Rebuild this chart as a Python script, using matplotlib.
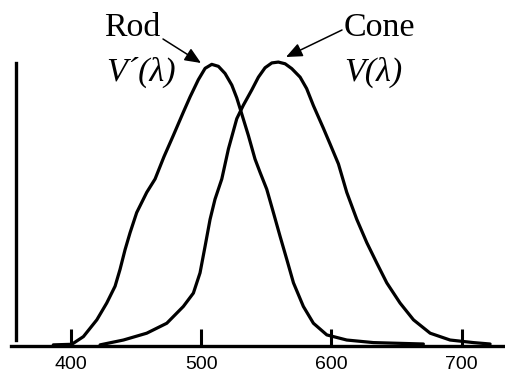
import matplotlib
matplotlib.use("Agg")
import matplotlib.pyplot as plt

# ---- data (wavelength nm, relative sensitivity) ----
rod_nm = [386.6, 400.8, 409.7, 420.0, 427.6, 434.0, 437.8, 441.7, 445.5, 450.6,
          458.3, 464.7, 471.5, 478.7, 486.4, 491.6, 497.9, 503.1, 508.2, 513.3,
          518.4, 523.6, 527.4, 531.2, 536.3, 541.4, 545.3, 550.4, 555.5, 560.6,
          565.8, 570.9, 578.5, 586.2, 596.5, 611.8, 632.2, 670.6]
rod_val = [0.004, 0.006, 0.033, 0.092, 0.151, 0.210, 0.269, 0.339, 0.398, 0.469,
           0.540, 0.587, 0.665, 0.740, 0.822, 0.876, 0.936, 0.976, 0.990, 0.983,
           0.958, 0.917, 0.872, 0.816, 0.740, 0.657, 0.610, 0.551, 0.469, 0.386,
           0.304, 0.222, 0.139, 0.080, 0.039, 0.021, 0.012, 0.007]

cone_nm = [422.5, 440.4, 458.3, 473.7, 486.4, 494.1, 499.2, 503.1, 506.9, 510.7,
           515.9, 521.0, 527.4, 532.4, 538.9, 544.0, 549.1, 554.3, 559.3, 564.5,
           569.6, 576.0, 581.0, 586.2, 593.9, 599.0, 605.4, 611.8, 619.5, 627.2,
           634.8, 642.5, 652.7, 663.0, 675.8, 691.1, 709.0, 721.8]
cone_val = [0.004, 0.021, 0.045, 0.080, 0.139, 0.186, 0.257, 0.351, 0.445, 0.516,
            0.587, 0.693, 0.799, 0.846, 0.900, 0.945, 0.978, 0.995, 0.998, 0.992,
            0.975, 0.945, 0.905, 0.845, 0.765, 0.710, 0.640, 0.540, 0.445, 0.363,
            0.292, 0.222, 0.151, 0.092, 0.045, 0.021, 0.012, 0.007]

xticks = [400, 500, 600, 700]
xtick_labels = ["400", "500", "600", "700"]
rod_label = ["Rod", "V\u00b4(\u03bb)"]
cone_label = ["Cone", "V(\u03bb)"]

W, H = 506, 375
fig = plt.figure(figsize=(W / 100, H / 100), dpi=100)
ax = fig.add_axes([0.0, (H - 346) / H, 1.0, (346 - 61.5) / H])
ax.set_xlim(345.7, 734.0)
ax.set_ylim(0, 1)

lw_curve = 2.3
ax.plot(rod_nm, rod_val, color="black", lw=lw_curve, clip_on=False,
        solid_joinstyle="round", solid_capstyle="round")
ax.plot(cone_nm, cone_val, color="black", lw=lw_curve, clip_on=False,
        solid_joinstyle="round", solid_capstyle="round")

for s in ["top", "right"]:
    ax.spines[s].set_visible(False)
ax.spines["bottom"].set_bounds(354, 734)
ax.spines["bottom"].set_linewidth(2.4)
ax.spines["left"].set_position(("data", 358))
ax.spines["left"].set_bounds(0.021, 0.995)
ax.spines["left"].set_linewidth(2.4)

ax.set_yticks([])
ax.set_xticks(xticks)
ax.set_xticklabels(xtick_labels, family="Liberation Sans", fontsize=14)
ax.tick_params(axis="x", direction="in", length=12.5, width=2.2, pad=7.0)

serif = "Liberation Serif"
fig.text(132.2 / W, 1 - 35.7 / H, rod_label[0], family=serif, fontsize=24.5,
         ha="center", va="baseline")
fig.text(141.0 / W, 1 - 81 / H, rod_label[1], family=serif, fontsize=24.5,
         style="italic", ha="center", va="baseline")
fig.text(344 / W, 1 - 35.7 / H, cone_label[0], family=serif, fontsize=24.5,
         ha="left", va="baseline")
fig.text(344 / W, 1 - 81 / H, cone_label[1], family=serif, fontsize=24.5,
         style="italic", ha="left", va="baseline")

arrow = dict(arrowstyle="-|>,head_length=0.7,head_width=0.3", mutation_scale=14,
             lw=1.1, color="black", shrinkA=0, shrinkB=0)
ax.annotate("", xy=(201, H - 63), xytext=(163, H - 39),
            xycoords="figure pixels", textcoords="figure pixels", arrowprops=arrow)
ax.annotate("", xy=(286, H - 57), xytext=(342, H - 30),
            xycoords="figure pixels", textcoords="figure pixels", arrowprops=arrow)

fig.savefig("out.png", dpi=100)
